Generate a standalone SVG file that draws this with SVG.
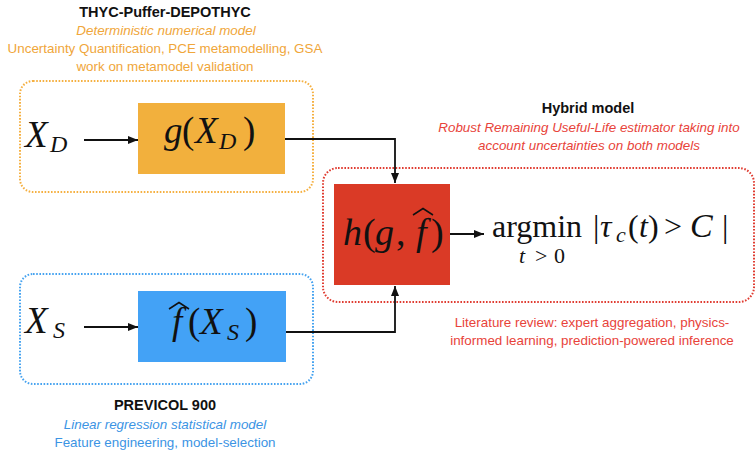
<svg xmlns="http://www.w3.org/2000/svg" width="755" height="451" viewBox="0 0 755 451">
<style>
.lbl{font-family:"Liberation Sans","DejaVu Sans",sans-serif;font-size:13.4px;text-anchor:middle}
.ttl{font-family:"Liberation Sans","DejaVu Sans",sans-serif;font-size:14.5px;font-weight:bold;text-anchor:middle;fill:#111}
.it{font-style:italic}
.or{fill:#F0A63A}
.rd{fill:#E8433A}
.bl{fill:#3B94E4}
.m{font-family:"Liberation Serif","Times New Roman",serif;font-size:37px;fill:#111}
.i{font-style:italic}
.s{font-size:24px;font-style:italic}
.conn{fill:none;stroke:#111;stroke-width:1.8}
.dot{fill:none;stroke-width:2;stroke-dasharray:1.6 1.6}
.hat{fill:none;stroke:#111;stroke-width:1.5;stroke-linejoin:miter}
</style>
<defs>
<marker id="ah" markerUnits="userSpaceOnUse" markerWidth="11" markerHeight="9" refX="10" refY="4.5" orient="auto">
<path d="M0,0.5 L10,4.5 L0,8.5 z" fill="#111"/>
</marker>
</defs>

<!-- group boxes and labels -->
<g id="det-group">
<rect class="dot" x="20" y="81" width="293" height="111" rx="13" stroke="#F5B041"/>
<text class="ttl" x="165" y="17">THYC-Puffer-DEPOTHYC</text>
<text class="lbl it or" x="166" y="35">Deterministic numerical model</text>
<text class="lbl or" x="165" y="53">Uncertainty Quantification, PCE metamodelling, GSA</text>
<text class="lbl or" x="165" y="71">work on metamodel validation</text>
</g>

<g id="stat-group">
<rect class="dot" x="20" y="274" width="293" height="110" rx="13" stroke="#46A3F0"/>
<text class="ttl" x="165" y="410">PREVICOL 900</text>
<text class="lbl it bl" x="165" y="429">Linear regression statistical model</text>
<text class="lbl bl" x="165" y="447">Feature engineering, model-selection</text>
</g>

<g id="hyb-group">
<rect class="dot" x="323" y="168" width="431" height="134" rx="15" stroke="#E03C31"/>
<text class="ttl" x="588" y="113">Hybrid model</text>
<text class="lbl it rd" x="589" y="132">Robust Remaining Useful-Life estimator taking into</text>
<text class="lbl it rd" x="589" y="150">account uncertainties on both models</text>
<text class="lbl rd" x="592" y="327">Literature review: expert aggregation, physics-</text>
<text class="lbl rd" x="592" y="345">informed learning, prediction-powered inference</text>
</g>

<!-- nodes -->
<g id="xd">
<text class="m"><tspan class="i" x="25" y="147">X</tspan><tspan class="s" x="50" y="152">D</tspan></text>
</g>

<g id="g-node">
<rect x="138" y="103" width="147" height="71" fill="#F2B03D"/>
<text class="m"><tspan class="i" x="164" y="143">g</tspan><tspan x="182" y="143">(</tspan><tspan class="i" x="195" y="143">X</tspan><tspan class="s" x="219" y="149">D</tspan><tspan x="243" y="143">)</tspan></text>
</g>

<g id="xs">
<text class="m"><tspan class="i" x="25" y="333">X</tspan><tspan class="s" x="53" y="338">S</tspan></text>
</g>

<g id="f-node">
<rect x="138" y="291" width="148" height="71" fill="#43A2F6"/>
<path class="hat" d="M169,309 L179,302.5 L189,309"/>
<text class="m"><tspan class="i" x="172" y="334">f</tspan><tspan x="188" y="334">(</tspan><tspan class="i" x="200" y="334">X</tspan><tspan class="s" x="227" y="340">S</tspan><tspan x="245" y="334">)</tspan></text>
</g>

<g id="h-node">
<rect x="334" y="184" width="116" height="101" fill="#DA3A26"/>
<path class="hat" d="M413,215 L423,208.5 L433,215"/>
<text class="m" style="font-size:38px"><tspan class="i" x="343" y="245">h</tspan><tspan x="363" y="245">(</tspan><tspan class="i" x="375" y="245">g</tspan><tspan x="396" y="245">,</tspan><tspan class="i" x="416" y="245">f</tspan><tspan x="431" y="245">)</tspan></text>
</g>

<g id="argmin">
<text class="m" style="font-size:32px"><tspan x="492" y="237">argmin</tspan><tspan x="593" y="237">|</tspan><tspan class="i" x="600" y="237">τ</tspan><tspan class="s" style="font-size:22px" x="616" y="242">c</tspan><tspan x="628" y="237">(</tspan><tspan class="i" x="639" y="237">t</tspan><tspan x="648" y="237">)</tspan><tspan x="664" y="237">&gt;</tspan><tspan class="i" style="font-size:34px" x="690" y="237">C</tspan><tspan x="722" y="237">|</tspan></text>
<text class="m" style="font-size:22px"><tspan class="i" x="519" y="263">t</tspan><tspan x="535" y="263">&gt;</tspan><tspan x="554" y="263">0</tspan></text>
</g>

<!-- connectors -->
<g id="connectors">
<line class="conn" x1="84" y1="140" x2="138" y2="140" marker-end="url(#ah)"/>
<line class="conn" x1="84" y1="327" x2="138" y2="327" marker-end="url(#ah)"/>
<path class="conn" d="M285,139 H395 V183" marker-end="url(#ah)"/>
<path class="conn" d="M286,332 H395 V286" marker-end="url(#ah)"/>
<line class="conn" x1="450" y1="234" x2="484" y2="234" marker-end="url(#ah)"/>
</g>
</svg>
